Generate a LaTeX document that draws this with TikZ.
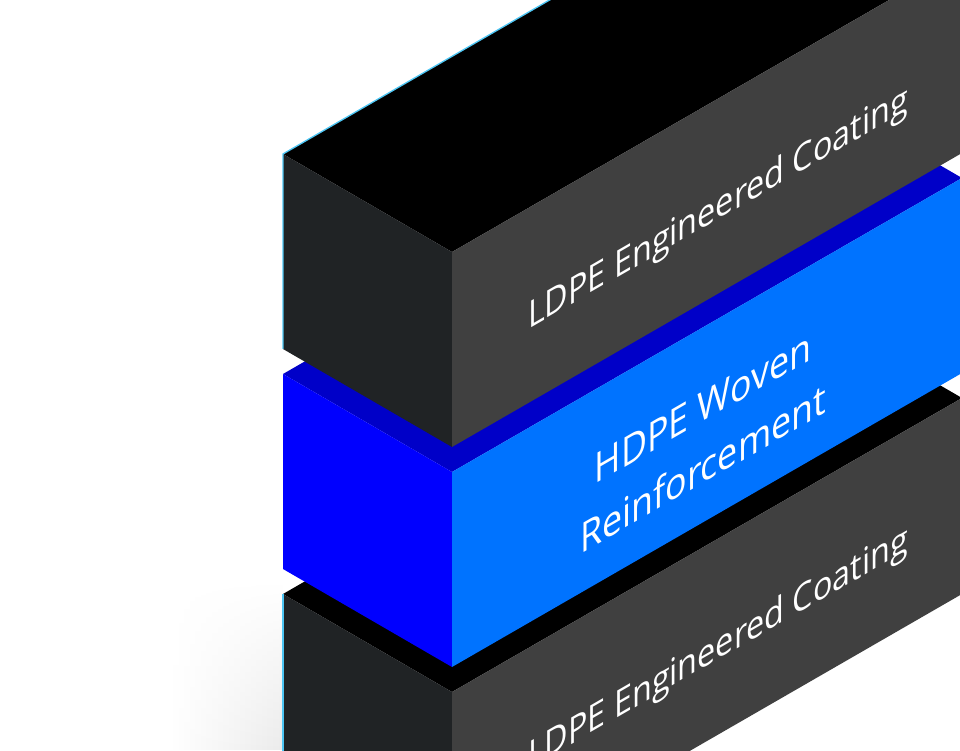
\documentclass[tikz,border=0pt]{standalone}
\usepackage{fontspec}
\setmainfont{Open Sans}
\usetikzlibrary{fadings}
\begin{document}
\begin{tikzpicture}[x=0.75pt,y=0.75pt,
  lbl/.style={transform shape,text=white,align=center,font=\fontsize{28}{40}\selectfont}]
\useasboundingbox (0,0) rectangle (960,750);
\begin{scope}
\clip (0,0) rectangle (960,750);
\shade[left color=white,right color=black!8,path fading=north] (170,0) rectangle (283,170);
% bottom block
\def\Ft{58}\def\H{196}
\fill[black] (283,\Ft+98) -- (452,\Ft) -- (962,\Ft+294) -- (793,\Ft+392) -- cycle;
\fill[fill={rgb,255:red,32;green,35;blue,37}] (283,\Ft+98) -- (452,\Ft) -- (452,\Ft-\H) -- (283,\Ft+98-\H) -- cycle;
\fill[fill={rgb,255:red,64;green,64;blue,64}] (452,\Ft) -- (962,\Ft+294) -- (962,\Ft+294-\H) -- (452,\Ft-\H) -- cycle;
\draw[cyan!70!white,line width=1pt] (283,\Ft+98) -- (283,\Ft+98-\H);
% middle block
\def\Ft{278}\def\H{195}
\fill[fill={rgb,255:red,0;green,0;blue,200}] (283,\Ft+98) -- (452,\Ft) -- (962,\Ft+294) -- (793,\Ft+392) -- cycle;
\fill[fill={rgb,255:red,0;green,0;blue,255}] (283,\Ft+98) -- (452,\Ft) -- (452,\Ft-\H) -- (283,\Ft+98-\H) -- cycle;
\fill[fill={rgb,255:red,0;green,115;blue,255}] (452,\Ft) -- (962,\Ft+294) -- (962,\Ft+294-\H) -- (452,\Ft-\H) -- cycle;
% top block
\def\Ft{498}\def\H{195}
\fill[black] (283,\Ft+98) -- (452,\Ft) -- (962,\Ft+294) -- (793,\Ft+392) -- cycle;
\fill[fill={rgb,255:red,32;green,35;blue,37}] (283,\Ft+98) -- (452,\Ft) -- (452,\Ft-\H) -- (283,\Ft+98-\H) -- cycle;
\fill[fill={rgb,255:red,64;green,64;blue,64}] (452,\Ft) -- (962,\Ft+294) -- (962,\Ft+294-\H) -- (452,\Ft-\H) -- cycle;
\draw[cyan!70!white,line width=1pt] (283,\Ft+98-\H) -- (283,\Ft+98) -- (560,\Ft+258);
\end{scope}
\begin{scope}[shift={(718,540)},cm={0.866,0.5,0,1,(0,0)}]
\node[lbl] (t1) {LDPE Engineered Coating};
\end{scope}
\begin{scope}[shift={(703,312)},cm={0.866,0.5,0,1,(0,0)}]
\node[lbl,font=\fontsize{31}{46}\selectfont] (t2) {HDPE Woven\\Reinforcement};
\end{scope}
\begin{scope}[shift={(718,100)},cm={0.866,0.5,0,1,(0,0)}]
\node[lbl] (t3) {LDPE Engineered Coating};
\end{scope}
\end{tikzpicture}
\end{document}
